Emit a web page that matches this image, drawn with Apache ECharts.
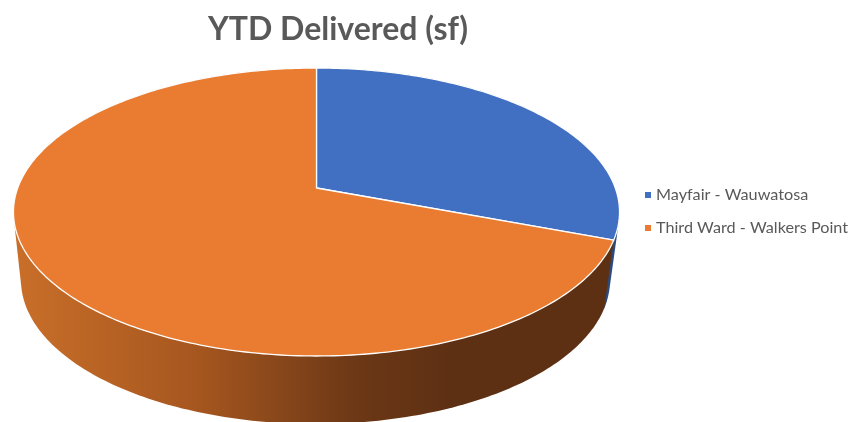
<!DOCTYPE html>
<html><head><meta charset="utf-8">
<style>html,body{margin:0;padding:0;background:#fff}#c{width:852px;height:422px}</style>
<script src="https://cdn.jsdelivr.net/npm/echarts@6/dist/echarts.min.js"></script>
</head><body><div id="c"></div>
<script>
const categories = ['Mayfair - Wauwatosa', 'Third Ward - Walkers Point'];
const values = [30.7, 69.3];
const faceColors = ['#4170C2', '#E97C31'];
const chartTitle = 'YTD Delivered (sf)';

const TOP = {cx: 316.5, cy: 188, a: 298.8, b: 140};
const BOTTOM = {cx: 315.5, cy: 256, a: 290.4, b: 140};
const K = 1 / 6;
const total = values.reduce((s, v) => s + v, 0);
const point = (g, t) => {
  const X = Math.sin(t), Y = Math.cos(t), w = 1 + K * Y;
  return [g.cx + g.a * X / w, g.cy - g.b * Y / w];
};
const arc = (g, t0, t1) => {
  const n = Math.max(2, Math.ceil((t1 - t0) * 60)), out = [];
  for (let i = 0; i <= n; i++) out.push(point(g, t0 + (t1 - t0) * i / n));
  return out;
};
const range = i => {
  const before = values.slice(0, i).reduce((s, v) => s + v, 0);
  return [before / total * 2 * Math.PI, (before + values[i]) / total * 2 * Math.PI];
};
// Convex hull: the area a slice's rim sweeps between the top and bottom discs.
const hull = pts => {
  const p = pts.slice().sort((a, b) => a[0] - b[0] || a[1] - b[1]);
  const cross = (o, a, b) => (a[0] - o[0]) * (b[1] - o[1]) - (a[1] - o[1]) * (b[0] - o[0]);
  const half = list => {
    const h = [];
    for (const q of list) {
      while (h.length > 1 && cross(h[h.length - 2], h[h.length - 1], q) <= 0) h.pop();
      h.push(q);
    }
    h.pop();
    return h;
  };
  return half(p).concat(half(p.slice().reverse()));
};
const wallFill = [
  '#2B4A7E',
  new echarts.graphic.LinearGradient(20, 0, 450, 0, [
    {offset: 0, color: '#C86E29'},
    {offset: 0.42, color: '#A5561F'},
    {offset: 0.78, color: '#6C3816'},
    {offset: 1, color: '#5E3013'}
  ], true)
];
const render = i => () => {
  const [t0, t1] = range(i);
  const top = arc(TOP, t0, t1), bot = arc(BOTTOM, t0, t1);
  return {type: 'group', children: [
    {type: 'polygon', z2: 1 + i, shape: {points: hull(top.concat(bot))},
     style: {fill: wallFill[i]}},
    {type: 'polygon', z2: 10, shape: {points: [[TOP.cx, TOP.cy]].concat(top)},
     style: {fill: faceColors[i], stroke: '#fff', lineWidth: 1.3, lineJoin: 'round'}}
  ]};
};
const chart = echarts.init(document.getElementById('c'), null, {renderer: 'canvas'});
chart.setOption({
  animation: false,
  title: {text: chartTitle, left: 333, top: 9, textAlign: 'center',
    textStyle: {color: '#595959', fontFamily: 'Lato', fontWeight: 'bold', fontSize: 32}},
  legend: {orient: 'vertical', left: 640, top: 182, itemWidth: 6, itemHeight: 6, itemGap: 17,
    icon: 'rect', selectedMode: false, data: categories,
    textStyle: {color: '#595959', fontFamily: 'Lato', fontSize: 16.2}},
  series: categories.map((name, i) => ({
    type: 'custom', name, coordinateSystem: 'none', silent: true, clip: false,
    itemStyle: {color: faceColors[i]},
    data: [[values[i]]], renderItem: render(i)
  }))
});
</script></body></html>
